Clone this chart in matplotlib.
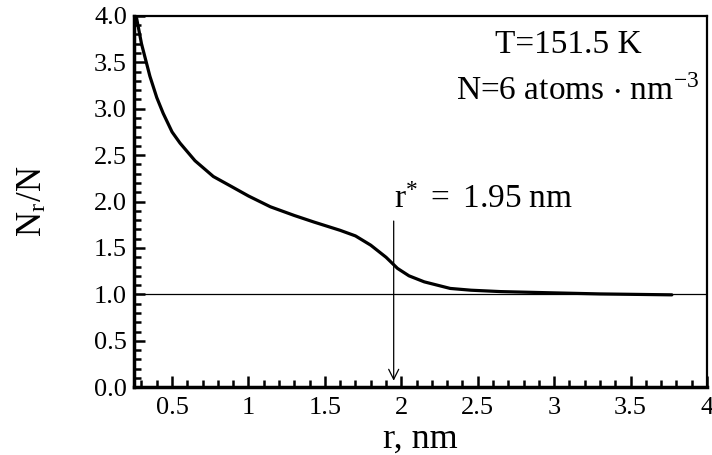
import matplotlib
matplotlib.use("Agg")
import matplotlib.pyplot as plt
from matplotlib.ticker import MultipleLocator, FixedLocator, FixedFormatter

plt.rcParams['font.family'] = ['Liberation Serif', 'DejaVu Serif']
plt.rcParams['mathtext.fontset'] = 'stix'

# data
r_nm = [0.268, 0.30, 0.355, 0.40, 0.442, 0.50, 0.552, 0.65, 0.77, 0.88, 1.0, 1.143,
        1.30, 1.427, 1.60, 1.70, 1.80, 1.90, 1.975, 2.05, 2.15, 2.32, 2.456, 2.65,
        2.98, 3.3, 3.77]
ratio = [3.975, 3.70, 3.35, 3.12, 2.95, 2.75, 2.63, 2.44, 2.27, 2.17, 2.06, 1.944,
         1.85, 1.78, 1.69, 1.63, 1.53, 1.40, 1.28, 1.20, 1.135, 1.064, 1.045, 1.03,
         1.017, 1.005, 0.995]
r_star = 1.95
xticks = [0.5, 1, 1.5, 2, 2.5, 3, 3.5, 4]
xticklabels = ['0.5', '1', '1.5', '2', '2.5', '3', '3.5', '4']
yticks = [0.0, 0.5, 1.0, 1.5, 2.0, 2.5, 3.0, 3.5, 4.0]
yticklabels = ['0.0', '0.5', '1.0', '1.5', '2.0', '2.5', '3.0', '3.5', '4.0']

fig = plt.figure(figsize=(7.12, 4.55), dpi=100)
ax = fig.add_axes([0.188, 0.149, 0.805, 0.816])

ax.plot(r_nm, ratio, color='black', lw=2.3, solid_capstyle='round')
ax.axhline(1.0, color='black', lw=0.9)

ax.annotate('', xy=(r_star, 0.04), xytext=(r_star, 1.82),
            arrowprops=dict(arrowstyle='->', color='black', lw=0.9,
                            mutation_scale=18))
ax.text(r_star, 1.93, r'$\mathregular{r^{*}\ =\ 1.95\ nm}$', fontsize=24,
        ha='left', va='baseline')
ax.text(3.09, 3.60, 'T=151.5 K', fontsize=24, ha='center', va='baseline')
ax.text(3.95, 3.09, r'N=6 atoms $\cdot$ nm$^{\mathregular{-3}}$', fontsize=24,
        ha='right', va='baseline')

ax.set_xlim(0.25, 4.0)
ax.set_ylim(0.0, 4.0)
ax.xaxis.set_major_locator(FixedLocator(xticks))
ax.xaxis.set_major_formatter(FixedFormatter(xticklabels))
ax.yaxis.set_major_locator(FixedLocator(yticks))
ax.yaxis.set_major_formatter(FixedFormatter(yticklabels))
ax.xaxis.set_minor_locator(MultipleLocator(0.1))
ax.yaxis.set_minor_locator(MultipleLocator(0.1))
ax.tick_params(which='both', direction='in', top=False, right=False,
               labelsize=19, width=1.8)
ax.tick_params(which='major', length=8)
ax.tick_params(axis='x', which='major', pad=7)
ax.tick_params(axis='y', which='major', pad=5)
ax.tick_params(which='minor', length=5)

for side in ['left', 'bottom']:
    ax.spines[side].set_linewidth(2.5)
for side in ['top', 'right']:
    ax.spines[side].set_linewidth(1.6)

ax.set_xlabel('r, nm', fontsize=26, labelpad=3)
ax.set_ylabel(r'N$_\mathregular{r}$/N', fontsize=25, labelpad=32)

fig.savefig('out.png', dpi=100)
